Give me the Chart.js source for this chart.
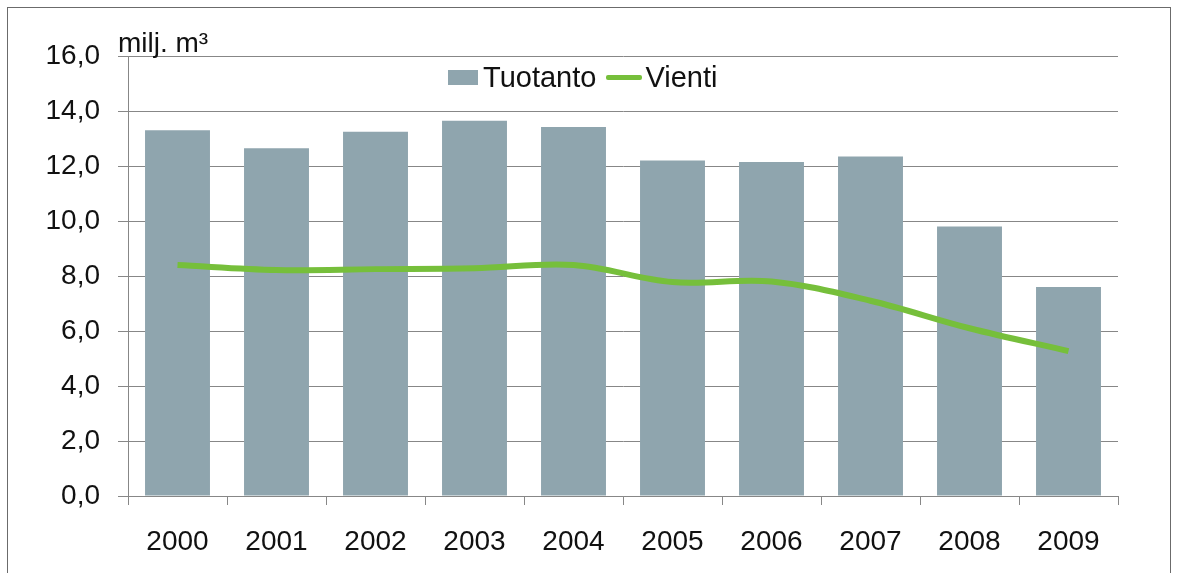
<!DOCTYPE html>
<html lang="fi">
<head>
<meta charset="utf-8">
<title>Tuotanto ja vienti</title>
<script src="https://cdn.jsdelivr.net/npm/chart.js@4/dist/chart.umd.min.js"></script>
<style>
    html, body { margin: 0; padding: 0; background: #fff; }
    body { width: 1178px; height: 573px; overflow: hidden; position: relative; font-family: "Liberation Sans", Arial, sans-serif; }
    #frame { position: absolute; left: 7px; top: 7px; width: 1164px; height: 600px; border: 1px solid #6b6b6b; box-sizing: border-box; }
    #wrap { position: absolute; left: 0; top: 0; width: 1178px; height: 573px; }
    #unit { position: absolute; left: 118px; top: 27px; font-size: 28px; color: #111; white-space: nowrap; }
    #legend { position: absolute; left: 448px; top: 61px; font-size: 29px; color: #111; display: flex; align-items: center; white-space: nowrap; }
    .box { display: inline-block; width: 30px; height: 15px; background: #8fa5ae; margin-right: 5px; }
    .ln { display: inline-block; width: 36px; height: 5px; background: #76bf3b; margin: 0 3px 0 10px; border-radius: 2px; }
</style>
</head>
<body>
<div id="frame"></div>
<div id="wrap"><canvas id="chart" width="1178" height="573"></canvas></div>
<div id="unit">milj. m³</div>
<div id="legend"><span class="box"></span>Tuotanto<span class="ln"></span>Vienti</div>
<script>
// vuodet ja sarjat (milj. m³)
const years = ['2000', '2001', '2002', '2003', '2004', '2005', '2006', '2007', '2008', '2009'];
const tuotanto = [13.3, 12.65, 13.25, 13.65, 13.42, 12.2, 12.15, 12.35, 9.8, 7.6];
const vienti = [8.4, 8.22, 8.25, 8.28, 8.4, 7.78, 7.8, 7.1, 6.1, 5.27];
const yTicks = [0, 2, 4, 6, 8, 10, 12, 14, 16];

const gridColor = '#878787';
const fontFamily = '"Liberation Sans", Arial, sans-serif';

const ctx = document.getElementById('chart').getContext('2d');
new Chart(ctx, {
    type: 'bar',
    data: {
        labels: years,
        datasets: [{
            type: 'line',
            label: 'Vienti',
            data: vienti,
            borderColor: '#76bf3b',
            borderWidth: 6,
            pointRadius: 0,
            tension: 0.35,
            fill: false,
            order: 0
        }, {
            label: 'Tuotanto',
            data: tuotanto,
            backgroundColor: '#8fa5ae',
            barPercentage: 0.656,
            categoryPercentage: 1.0,
            order: 1
        }]
    },
    options: {
        responsive: false,
        animation: false,
        layout: { padding: { left: 0, top: 56, right: 60, bottom: 0 } },
        plugins: {
            legend: { display: false },
            tooltip: { enabled: false }
        },
        scales: {
            x: {
                grid: {
                    offset: true,
                    drawOnChartArea: false,
                    drawTicks: true,
                    tickLength: 9,
                    color: gridColor
                },
                border: { color: gridColor, width: 1 },
                ticks: {
                    color: '#111',
                    padding: 20,
                    font: { family: fontFamily, size: 28 }
                },
                afterFit: (scale) => { scale.height = 77; }
            },
            y: {
                min: 0,
                max: 16,
                afterBuildTicks: (scale) => { scale.ticks = yTicks.map(v => ({ value: v })); },
                grid: {
                    color: gridColor,
                    tickLength: 10,
                    lineWidth: 1
                },
                border: { color: gridColor, width: 1 },
                ticks: {
                    color: '#111',
                    padding: 18,
                    font: { family: fontFamily, size: 28 },
                    callback: (value) => value.toFixed(1).replace('.', ',')
                },
                afterFit: (scale) => { scale.width = 128; }
            }
        }
    }
});
</script>
</body>
</html>
